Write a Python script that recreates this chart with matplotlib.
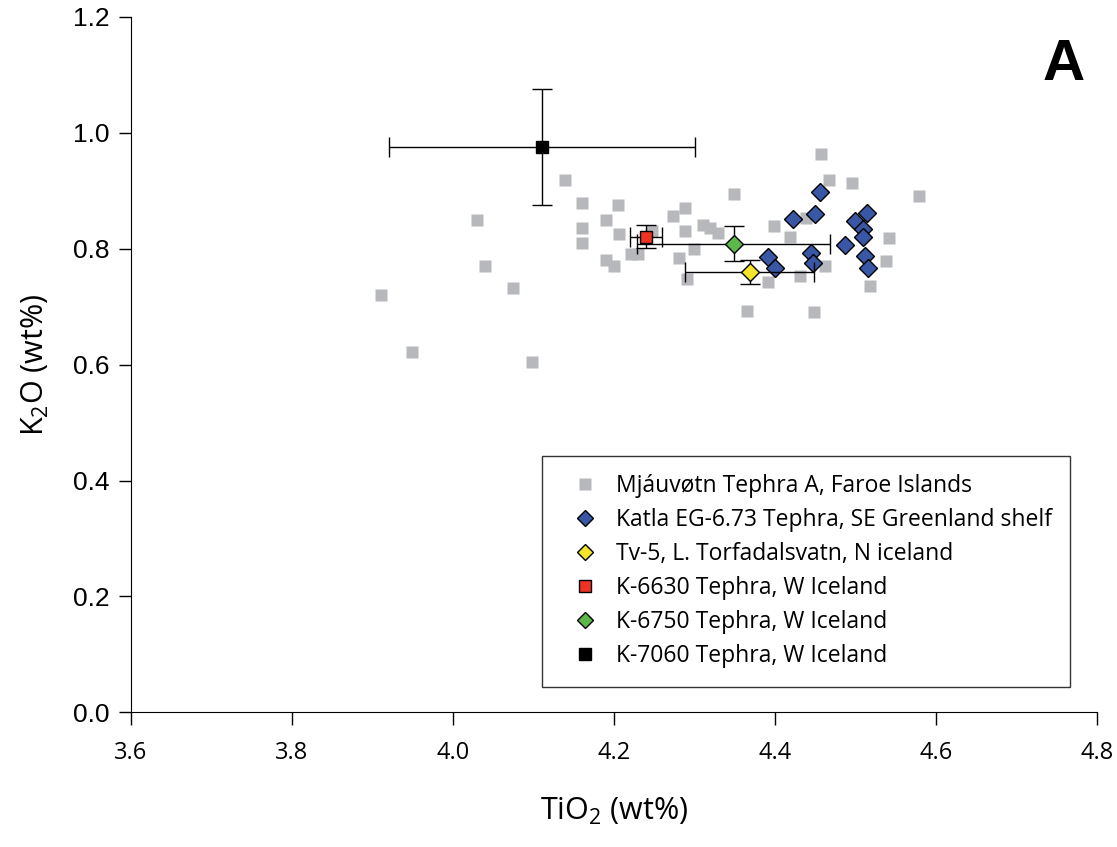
import matplotlib
matplotlib.use("Agg")
import matplotlib.pyplot as plt
from matplotlib.lines import Line2D

plt.rcParams['font.family'] = ['Open Sans', 'DejaVu Sans']
plt.rcParams['mathtext.fontset'] = 'custom'
plt.rcParams['mathtext.rm'] = 'Open Sans'
plt.rcParams['mathtext.it'] = 'Open Sans'

# Mjauvotn Tephra A (grey squares)
faroe_ti = [3.911, 3.949, 4.030, 4.040, 4.075, 4.098, 4.139, 4.160, 4.160, 4.160,
            4.190, 4.205, 4.206, 4.190, 4.200, 4.221, 4.230, 4.248, 4.273, 4.281,
            4.289, 4.289, 4.291, 4.299, 4.311, 4.320, 4.329, 4.349, 4.365, 4.391,
            4.399, 4.419, 4.431, 4.439, 4.449, 4.457, 4.462, 4.467, 4.496, 4.518,
            4.538, 4.542, 4.579]
faroe_k = [0.721, 0.622, 0.850, 0.771, 0.733, 0.605, 0.919, 0.879, 0.836, 0.810,
           0.850, 0.876, 0.826, 0.781, 0.771, 0.791, 0.791, 0.831, 0.857, 0.784,
           0.871, 0.831, 0.747, 0.800, 0.841, 0.836, 0.828, 0.895, 0.693, 0.743,
           0.840, 0.821, 0.753, 0.853, 0.690, 0.964, 0.771, 0.919, 0.914, 0.736,
           0.779, 0.819, 0.891]

# Katla EG-6.73 (blue diamonds)
katla_ti = [4.456, 4.422, 4.450, 4.514, 4.499, 4.509, 4.509, 4.487, 4.512, 4.516,
            4.391, 4.400, 4.445, 4.447]
katla_k = [0.898, 0.852, 0.860, 0.862, 0.847, 0.834, 0.821, 0.807, 0.788, 0.767,
           0.786, 0.767, 0.793, 0.776]

# mean values with 1 sd: TiO2, K2O, sd TiO2, sd K2O
tv5 = (4.369, 0.760, 0.08, 0.02)
k6630 = (4.240, 0.821, 0.02, 0.02)
k6750 = (4.349, 0.809, 0.12, 0.03)
k7060 = (4.111, 0.975, 0.19, 0.10)

labels = ["Mjáuvøtn Tephra A, Faroe Islands",
          "Katla EG-6.73 Tephra, SE Greenland shelf",
          "Tv-5, L. Torfadalsvatn, N iceland",
          "K-6630 Tephra, W Iceland",
          "K-6750 Tephra, W Iceland",
          "K-7060 Tephra, W Iceland"]

grey = '#b7b8bc'
blue = '#3a57a6'
yellow = '#f2e52a'
red = '#ee3224'
green = '#5cb848'

fig = plt.figure(figsize=(11.17, 8.47), dpi=100)
ax = fig.add_axes([0.117, 0.159, 0.865, 0.821])

ax.plot(faroe_ti, faroe_k, 's', color=grey, ms=9, mec='none', zorder=2)
ax.plot(katla_ti, katla_k, 'D', color=blue, ms=9, mec='black', mew=1, zorder=3)

def mean_pt(d, marker, fc, ms):
    ax.errorbar(d[0], d[1], xerr=d[2], yerr=d[3], fmt=marker, mfc=fc, mec='black',
                mew=1, ms=ms, ecolor='black', elinewidth=1, capsize=7.5, capthick=1,
                zorder=4)

mean_pt(tv5, 'D', yellow, 9.5)
mean_pt(k6630, 's', red, 8.5)
mean_pt(k6750, 'D', green, 9.5)
mean_pt(k7060, 's', 'black', 8.5)

ax.set_xlim(3.6, 4.8)
ax.set_ylim(0, 1.2)
ax.set_xticks([3.6, 3.8, 4.0, 4.2, 4.4, 4.6, 4.8])
ax.set_yticks([0.0, 0.2, 0.4, 0.6, 0.8, 1.0, 1.2])
ax.set_xticklabels(['3.6', '3.8', '4.0', '4.2', '4.4', '4.6', '4.8'], fontsize=17)
ax.set_yticklabels(['0.0', '0.2', '0.4', '0.6', '0.8', '1.0', '1.2'],
                   fontsize=19, family='Liberation Sans')
ax.spines['top'].set_visible(False)
ax.spines['right'].set_visible(False)
ax.tick_params(direction='out', length=9, width=1, pad=6)
ax.tick_params(axis='x', pad=12)

ax.set_xlabel(r'TiO$_2$ (wt%)', fontsize=22, labelpad=22)
ax.set_ylabel(r'K$_2$O (wt%)', fontsize=22, labelpad=16)

ax.text(0.9876, 0.909, 'A', transform=ax.transAxes, fontsize=42, fontweight='bold',
        ha='right', va='baseline', family=['Liberation Sans', 'DejaVu Sans'])

handles = [
    Line2D([], [], ls='none', marker='s', color=grey, mec='none', ms=8),
    Line2D([], [], ls='none', marker='D', mfc=blue, mec='black', ms=8),
    Line2D([], [], ls='none', marker='D', mfc=yellow, mec='black', ms=8),
    Line2D([], [], ls='none', marker='s', mfc=red, mec='black', ms=8),
    Line2D([], [], ls='none', marker='D', mfc=green, mec='black', ms=8),
    Line2D([], [], ls='none', marker='s', mfc='black', mec='black', ms=8),
]
leg = ax.legend(handles, labels, loc='lower right', bbox_to_anchor=(0.972, 0.037),
                fontsize=16.5, frameon=True, fancybox=False, edgecolor='black',
                labelspacing=0.44, handletextpad=0.3, borderpad=0.8,
                borderaxespad=0, handlelength=2.1)
leg.get_frame().set_linewidth(1)

fig.savefig('out.png', dpi=100)
